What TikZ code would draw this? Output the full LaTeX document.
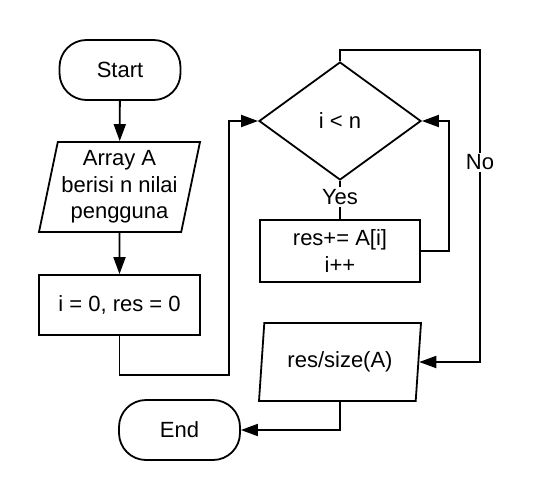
\documentclass[tikz,border=0pt]{standalone}
\usepackage{fontspec}
\setmainfont{Liberation Sans}
\usetikzlibrary{shapes.geometric,arrows.meta}
\begin{document}
\begin{tikzpicture}[x=1pt,y=-1pt,
  every node/.style={font=\fontsize{22}{26.5}\selectfont},
  base/.style={draw,line width=1.8pt,inner sep=0pt,align=center},
  term/.style={base,rectangle,rounded corners=27pt,minimum width=121pt,minimum height=60pt},
  proc/.style={base,rectangle,minimum width=161pt,minimum height=60pt},
  io/.style={base,trapezium,trapezium left angle=75.5,trapezium right angle=104.5,trapezium stretches body=true},
  dec/.style={base,diamond,minimum width=162pt,minimum height=118pt},
  arr/.style={line width=1.8pt,-{Triangle[length=17pt,width=12pt]}},
  ln/.style={line width=1.8pt},
  lbl/.style={fill=white,inner sep=2pt}]
\useasboundingbox (0,0) rectangle (534,500);
\node[term] (start) at (120,70) {Start};
\node[io,minimum width=161pt,minimum height=90pt] (arr) at (119.5,187) {Array A\\berisi n nilai\\pengguna};
\node[proc] (init) at (119.5,305) {i = 0, res = 0};
\node[dec] (cond) at (340,121) {i < n};
\node[proc,minimum width=160pt,minimum height=62pt] (body) at (340,251) {res+= A[i]\\i++};
\node[io,minimum width=162pt,minimum height=78pt] (out) at (340,362) {res/size(A)};
\node[term] (end) at (179.5,430) {End};
\coordinate (c1) at (229,375);
\coordinate (c2) at (449,251);
\coordinate (c3) at (480,50);
\draw[arr] (start) -- (arr);
\draw[arr] (arr) -- (init);
\draw[arr] (init.south) |- (c1) |- (cond.west);
\draw[ln] (cond.south) -- node[lbl,pos=0.42]{Yes} (body.north);
\draw[arr] (body.east) -- (c2) |- (cond.east);
\draw[arr] (cond.north) |- (c3) |- node[lbl,pos=0.18]{No} (out.east);
\draw[arr] (out.south) |- (end.east);
\end{tikzpicture}
\end{document}
